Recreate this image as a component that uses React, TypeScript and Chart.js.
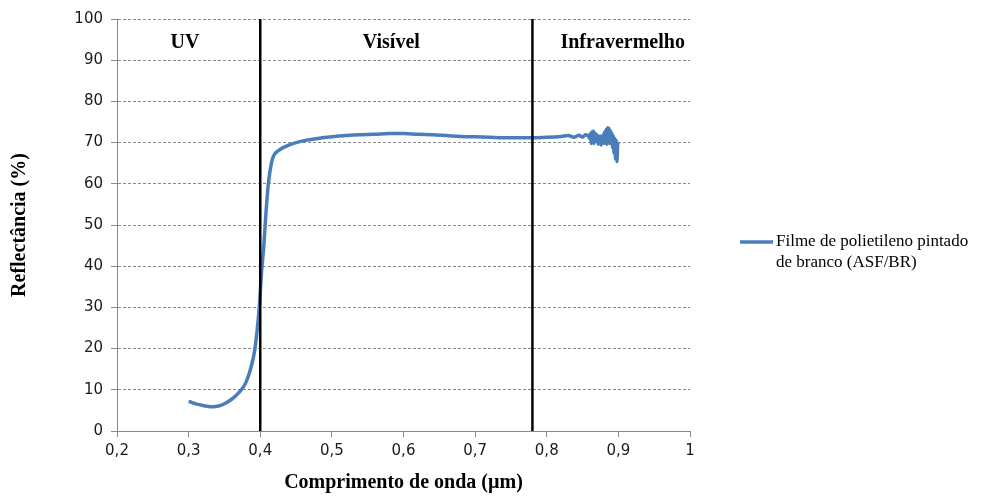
import React, { useEffect, useRef } from "react";
import { Chart, registerables } from "chart.js";

Chart.register(...registerables);

// ---- data ----
const wavelengths: number[] = [
  0.300, 0.305, 0.310, 0.315, 0.320, 0.325, 0.330, 0.335, 0.340, 0.345,
  0.350, 0.355, 0.360, 0.365, 0.370, 0.375, 0.380, 0.385, 0.390, 0.393,
  0.396, 0.399, 0.402, 0.405, 0.408, 0.411, 0.414, 0.417, 0.420, 0.425,
  0.430, 0.440, 0.450, 0.465, 0.480, 0.500, 0.520, 0.540, 0.560, 0.580,
  0.600, 0.620, 0.640, 0.660, 0.680, 0.700, 0.720, 0.740, 0.760, 0.780,
  0.800, 0.820, 0.830, 0.838, 0.845, 0.850, 0.854, 0.858, 0.860, 0.861,
  0.862, 0.863, 0.864, 0.865, 0.866, 0.867, 0.868, 0.869, 0.870, 0.871,
  0.872, 0.873, 0.874, 0.875, 0.876, 0.877, 0.878, 0.879, 0.880, 0.881,
  0.882, 0.883, 0.884, 0.885, 0.886, 0.887, 0.888, 0.889, 0.890, 0.891,
  0.892, 0.893, 0.894, 0.895, 0.896, 0.897, 0.898, 0.899, 0.900,
];
const reflectance: number[] = [
  7.2, 6.9, 6.6, 6.4, 6.2, 6.0, 5.9, 5.9, 6.0, 6.2,
  6.6, 7.1, 7.7, 8.4, 9.3, 10.3, 11.8, 14.2, 17.5, 20.5,
  25.0, 31.0, 39.0, 45.0, 53.0, 59.5, 63.5, 66.0, 67.2, 68.0,
  68.6, 69.4, 70.0, 70.6, 71.0, 71.4, 71.7, 71.9, 72.0, 72.2,
  72.2, 72.0, 71.9, 71.7, 71.5, 71.4, 71.3, 71.2, 71.2, 71.2,
  71.3, 71.5, 71.7, 71.3, 71.8, 71.3, 71.9, 71.6, 71.0, 72.2,
  69.8, 72.6, 70.4, 72.8, 69.8, 72.4, 70.2, 72.0, 70.6, 71.8,
  69.6, 71.4, 70.0, 71.6, 69.4, 71.2, 70.2, 72.0, 69.8, 72.6,
  70.0, 73.2, 69.6, 73.6, 70.4, 73.4, 69.8, 72.8, 70.2, 72.2,
  68.8, 71.6, 67.4, 71.0, 66.0, 70.6, 65.4, 69.6, 70.2,
];
const seriesLabel = "Filme de polietileno pintado de branco (ASF/BR)";

const regionBoundaries: number[] = [0.4, 0.78];
const regionNames: string[] = ["UV", "Visível", "Infravermelho"];
const regionCenters: number[] = [0.295, 0.583, 0.906];
const regionLabelY = 93;

const xMin = 0.2, xMax = 1, xStep = 0.1;
const yMin = 0, yMax = 100, yStep = 10;

const xTitle = "Comprimento de onda (µm)";
const yTitle = "Reflectância (%)";

const BLUE = "#4A7EBB";
const AXIS_GRAY = "#888888";
const SERIF = "'Liberation Serif', 'Times New Roman', serif";
const SANS = "'DejaVu Sans', Verdana, sans-serif";

export default function App() {
  const ref = useRef<HTMLCanvasElement | null>(null);

  useEffect(() => {
    if (!ref.current) return;

    const regionPlugin = {
      id: "regionLabels",
      afterDatasetsDraw(chart: any) {
        const { ctx, scales } = chart;
        ctx.save();
        ctx.font = `bold 20px ${SERIF}`;
        ctx.fillStyle = "#000";
        ctx.textAlign = "center";
        ctx.textBaseline = "alphabetic";
        regionNames.forEach((n, i) => {
          ctx.fillText(n, scales.x.getPixelForValue(regionCenters[i]), scales.y.getPixelForValue(regionLabelY));
        });
        ctx.restore();
      },
    };

    const legendPlugin = {
      id: "sideLegend",
      afterDraw(chart: any) {
        const { ctx, chartArea } = chart;
        const ds = chart.data.datasets.find((d: any) => d.label === seriesLabel);
        if (!ds) return;
        ctx.save();
        ctx.font = `17px ${SERIF}`;
        const maxW = 200;
        const words = String(ds.label).split(" ");
        const lines: string[] = [];
        let cur = "";
        words.forEach((w) => {
          const t = cur ? cur + " " + w : w;
          if (ctx.measureText(t).width > maxW && cur) {
            lines.push(cur);
            cur = w;
          } else cur = t;
        });
        if (cur) lines.push(cur);
        const x0 = chartArea.right + 50;
        const y0 = (chartArea.top + chartArea.bottom) / 2 + 17;
        ctx.strokeStyle = ds.borderColor;
        ctx.lineWidth = 3.5;
        ctx.beginPath();
        ctx.moveTo(x0, y0);
        ctx.lineTo(x0 + 33, y0);
        ctx.stroke();
        ctx.fillStyle = "#000";
        ctx.textAlign = "left";
        ctx.textBaseline = "middle";
        lines.forEach((l, i) => ctx.fillText(l, x0 + 36, y0 + i * 21));
        ctx.restore();
      },
    };

    const boundaryLines = regionBoundaries.map((b) => ({
      label: "boundary",
      data: [
        { x: b, y: yMin },
        { x: b, y: yMax },
      ],
      borderColor: "#000",
      borderWidth: 2.5,
      pointRadius: 0,
      order: 0,
    }));

    const chart = new Chart(ref.current, {
      type: "line",
      data: {
        datasets: [
          ...boundaryLines,
          {
            label: seriesLabel,
            data: wavelengths.map((w, i) => ({ x: w, y: reflectance[i] })),
            borderColor: BLUE,
            borderWidth: 3.5,
            pointRadius: 0,
            cubicInterpolationMode: "monotone",
            borderJoinStyle: "round",
            order: 1,
          },
        ],
      } as any,
      options: {
        animation: false,
        responsive: true,
        maintainAspectRatio: false,
        layout: { padding: { left: 0, right: 292, top: 19, bottom: 0 } },
        plugins: {
          legend: { display: false },
          tooltip: { enabled: false },
        },
        scales: {
          x: {
            type: "linear",
            min: xMin,
            max: xMax,
            afterFit: (s: any) => {
              s.height = 65;
            },
            afterBuildTicks: (s: any) => {
              const t = [];
              for (let v = xMin; v <= xMax + 1e-9; v += xStep) t.push({ value: Math.round(v * 10) / 10 });
              s.ticks = t;
            },
            ticks: {
              font: { family: SANS, size: 15 },
              color: "#1a1a1a",
              padding: 5,
              maxRotation: 0,
              callback: (v: any) => String(Math.round(Number(v) * 10) / 10).replace(".", ","),
            },
            grid: {
              display: true,
              drawOnChartArea: false,
              drawTicks: true,
              tickLength: 6,
              tickColor: AXIS_GRAY,
              color: AXIS_GRAY,
            },
            border: { display: true, color: AXIS_GRAY, width: 1 },
            title: {
              display: true,
              text: xTitle,
              font: { family: SERIF, size: 20, weight: "bold" },
              color: "#000",
              padding: { top: 0, bottom: 1 },
            },
          },
          y: {
            type: "linear",
            min: yMin,
            max: yMax,
            afterFit: (s: any) => {
              s.width = 117;
            },
            ticks: {
              stepSize: yStep,
              font: { family: SANS, size: 15 },
              color: "#1a1a1a",
              padding: 8,
            },
            grid: {
              color: AXIS_GRAY,
              lineWidth: 1,
              tickLength: 6,
              tickColor: AXIS_GRAY,
              tickBorderDash: [],
            },
            border: { display: true, color: AXIS_GRAY, width: 1, dash: [3, 2] },
            title: {
              display: true,
              text: yTitle,
              font: { family: SERIF, size: 20, weight: "bold" },
              color: "#000",
              padding: { top: 8, bottom: 0 },
            },
          },
        },
      } as any,
      plugins: [regionPlugin, legendPlugin],
    });

    return () => chart.destroy();
  }, []);

  return (
    <div style={{ position: "fixed", left: 0, top: 0, width: 982, height: 496, background: "#fff" }}>
      <canvas ref={ref} />
    </div>
  );
}
